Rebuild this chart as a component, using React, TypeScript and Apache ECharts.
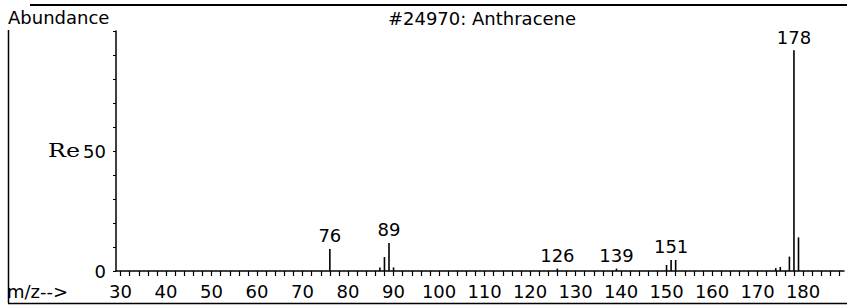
import React, { useEffect, useRef } from "react";
import * as echarts from "echarts";

// m/z values of the plotted peaks
const massValues: number[] = [76, 87, 88, 89, 90, 126, 139, 150, 151, 152, 174, 175, 177, 178, 179];
// relative abundance
const abundanceValues: number[] = [9.2, 1.5, 5.8, 11.7, 1.5, 1.0, 1.0, 2.5, 4.6, 4.6, 1.2, 1.7, 6.0, 92, 14];
// peaks that carry an m/z label
const labelledPeaks: number[] = [76, 89, 126, 139, 151, 178];
// axis tick labels
const xTickLabels: number[] = [30, 40, 50, 60, 70, 80, 90, 100, 110, 120, 130, 140, 150, 160, 170, 180];
const xMinorTicks: number[] = Array.from({ length: 80 }, (_, i) => 30 + i * 2);
const yTickLabels: number[] = [0, 50];

const titleText = "#24970: Anthracene";
const yTitle = "Abundance";
const xTitle = "m/z-->";

const FONT = "DejaVu Sans";

export default function App() {
  const ref = useRef<HTMLDivElement>(null);
  useEffect(() => {
    if (!ref.current) return;
    const chart = echarts.init(ref.current, undefined, { renderer: "svg" });
    const data = massValues.map((m, i) => {
      const item: any = { value: [m, abundanceValues[i]] };
      if (labelledPeaks.includes(m)) {
        item.label = {
          show: true,
          position: "top",
          distance: 4,
          formatter: String(m),
          color: "#000",
          fontFamily: FONT,
          fontSize: 18,
        };
      }
      return item;
    });
    chart.setOption({
      animation: false,
      backgroundColor: "#fff",
      grid: { left: 116, right: 3, top: 31, bottom: 36, containLabel: false },
      xAxis: {
        type: "value",
        min: 29,
        max: 189,
        axisLine: { show: true, onZero: false, lineStyle: { color: "#000", width: 1.5 } },
        axisTick: {
          show: true,
          length: 5,
          customValues: xMinorTicks,
          lineStyle: { color: "#000", width: 1.2 },
        },
        axisLabel: {
          customValues: xTickLabels,
          color: "#000",
          fontFamily: FONT,
          fontSize: 18,
          margin: 11,
        },
        splitLine: { show: false },
      },
      yAxis: {
        type: "value",
        min: 0,
        max: 100,
        interval: 50,
        axisLine: { show: true, lineStyle: { color: "#000", width: 1.5 } },
        axisTick: { show: true, length: 3, lineStyle: { color: "#000" } },
        minorTick: { show: true, splitNumber: 5, length: 3, lineStyle: { color: "#000" } },
        axisLabel: {
          color: "#000",
          fontFamily: FONT,
          fontSize: 18,
          margin: 10,
          formatter: (v: number) => (yTickLabels.includes(v) ? String(v) : ""),
        },
        splitLine: { show: false },
      },
      series: [
        {
          type: "bar",
          data,
          barWidth: 1.6,
          itemStyle: { color: "#000" },
          label: { show: false },
        },
      ],
      graphic: [
        {
          type: "text",
          left: 8,
          top: 8,
          style: { text: yTitle, fontFamily: FONT, fontSize: 18, fill: "#000" },
        },
        {
          type: "text",
          x: 482,
          y: 18,
          style: {
            text: titleText,
            fontFamily: FONT,
            fontSize: 18,
            fill: "#000",
            align: "center",
            verticalAlign: "middle",
          },
        },
        {
          type: "text",
          x: 7,
          y: 291,
          style: { text: xTitle, fontFamily: FONT, fontSize: 18, fill: "#000", verticalAlign: "middle" },
        },
        {
          type: "text",
          x: 48,
          y: 150,
          scaleX: 1.25,
          style: {
            text: "Re",
            fontFamily: "DejaVu Serif",
            fontSize: 19,
            fill: "#000",
            verticalAlign: "middle",
          },
        },
        {
          type: "line",
          shape: { x1: 30, y1: 5, x2: 847, y2: 5 },
          style: { stroke: "#000", lineWidth: 2 },
        },
        {
          type: "line",
          shape: { x1: 8.5, y1: 30, x2: 8.5, y2: 303 },
          style: { stroke: "#000", lineWidth: 1.5 },
        },
        {
          type: "line",
          shape: { x1: 8, y1: 303.5, x2: 847, y2: 303.5 },
          style: { stroke: "#000", lineWidth: 1.5 },
        },
      ],
    });
    return () => chart.dispose();
  }, []);
  return (
    <div
      ref={ref}
      style={{ position: "fixed", left: 0, top: 0, width: 847, height: 307, background: "#fff" }}
    />
  );
}
